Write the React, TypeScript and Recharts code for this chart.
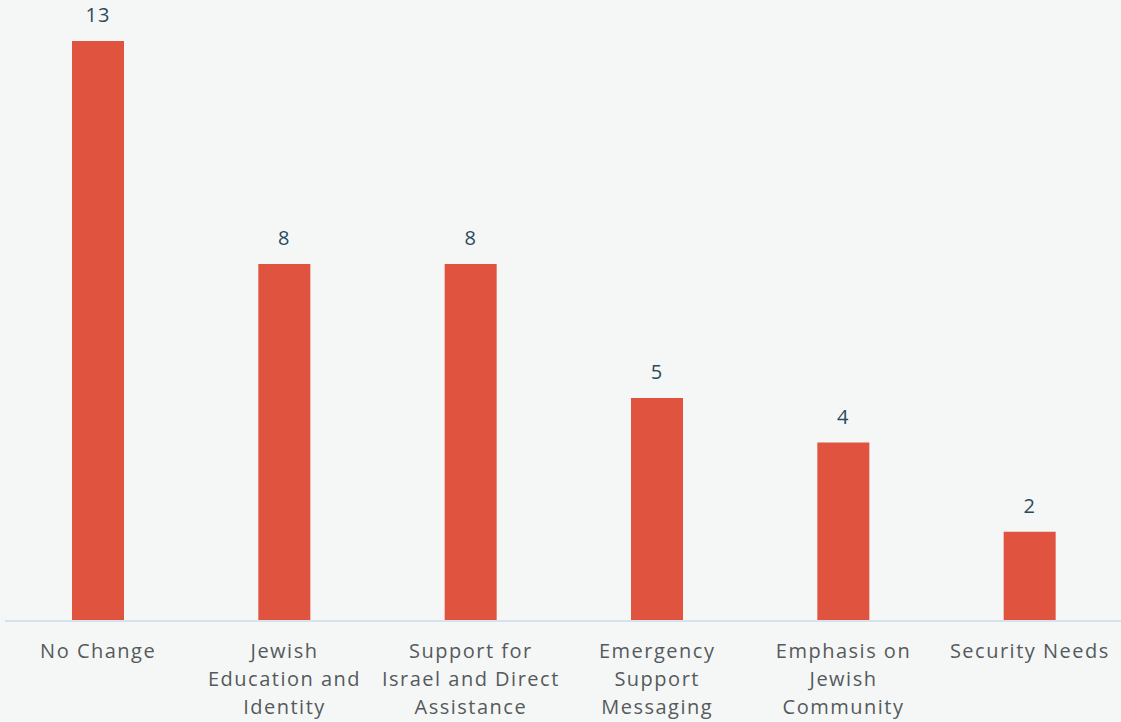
import { Bar, BarChart, LabelList, XAxis, YAxis } from 'recharts';

const categories = [
  'No Change',
  'Jewish\nEducation and\nIdentity',
  'Support for\nIsrael and Direct\nAssistance',
  'Emergency\nSupport\nMessaging',
  'Emphasis on\nJewish\nCommunity',
  'Security Needs',
];
const counts = [13, 8, 8, 5, 4, 2];

const chartData = categories.map((name, i) => ({ name, value: counts[i] }));

const FONT = '"Open Sans", "Noto Sans", sans-serif';

function WrappedTick({ x, y, payload }: any) {
  const lines = String(payload.value).split('\n');
  return (
    <text
      x={x}
      y={y}
      textAnchor="middle"
      fill="#555a5c"
      fontSize={20}
      letterSpacing={1.5}
      fontFamily={FONT}
    >
      {lines.map((line, i) => (
        <tspan key={i} x={x} dy={i === 0 ? 29 : 28}>
          {line}
        </tspan>
      ))}
    </text>
  );
}

export default function App() {
  return (
    <div
      style={{
        position: 'absolute',
        left: 0,
        top: 0,
        width: 1121,
        height: 722,
        overflow: 'hidden',
        background: '#f5f7f7',
      }}
    >
      <BarChart
        width={1123}
        height={722}
        data={chartData}
        margin={{ top: 41, right: 0, left: 5, bottom: 0 }}
      >
        <XAxis
          dataKey="name"
          height={101}
          interval={0}
          tickLine={false}
          axisLine={{ stroke: '#d6e3ef', strokeWidth: 2 }}
          tick={<WrappedTick />}
        />
        <YAxis hide domain={[0, 13]} />
        <Bar dataKey="value" fill="#e0533f" barSize={52} isAnimationActive={false}>
          <LabelList
            dataKey="value"
            position="top"
            offset={19}
            fill="#2b4a5c"
            fontSize={20}
            letterSpacing={1}
            fontFamily={FONT}
          />
        </Bar>
      </BarChart>
    </div>
  );
}
